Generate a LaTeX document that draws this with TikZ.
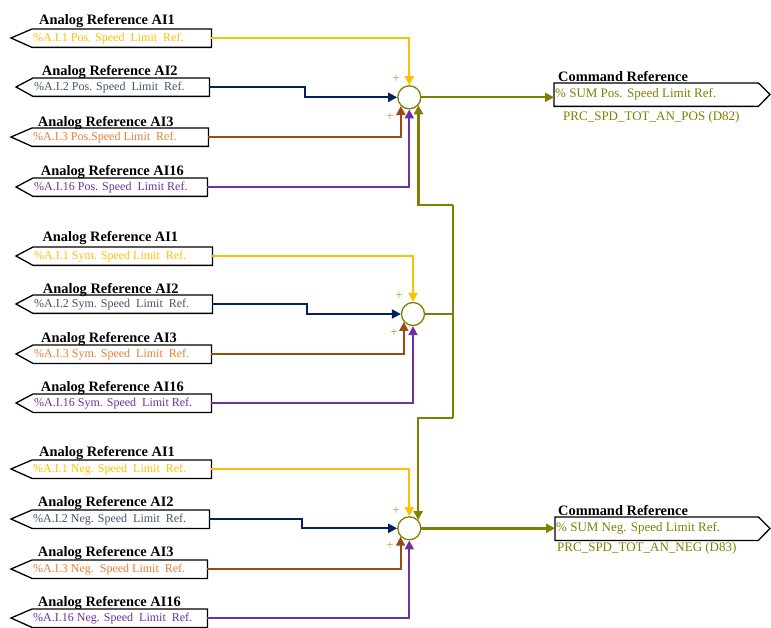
\documentclass[tikz,border=0pt]{standalone}
\usepackage{fontspec}
\setmainfont{Liberation Serif}
\usetikzlibrary{arrows.meta,calc}
\definecolor{cyel}{HTML}{FFC000}
\definecolor{cnavy}{HTML}{002060}
\definecolor{cbluet}{HTML}{44546A}
\definecolor{cbrown}{HTML}{9A4A12}
\definecolor{corange}{HTML}{ED7D31}
\definecolor{cpurple}{HTML}{7030A0}
\definecolor{colive}{HTML}{808000}
\definecolor{cplus}{HTML}{A0A040}
\tikzset{
 boxtext/.style={inner xsep=1pt, inner ysep=0pt, anchor=north west, minimum height=18pt, font=\fontsize{12}{14}\selectfont},
 cmdtext/.style={inner xsep=1pt, inner ysep=0pt, anchor=north west, minimum height=23pt, text=colive, font=\fontsize{13}{15}\selectfont},
 boxline/.style={draw=black, line width=1.3pt, line join=miter},
 titletext/.style={anchor=west, inner sep=0pt, font=\bfseries\fontsize{14.4}{16}\selectfont},
 wire/.style={line width=2pt, -{Triangle[length=9pt,width=9pt]}},
 bus/.style={line width=2.4pt, draw=colive},
 sumnode/.style={circle, draw=colive, fill=white, line width=1.3pt, minimum size=23pt, inner sep=0pt},
 plusmark/.style={text=cplus, inner sep=0pt, font=\fontsize{13}{14}\selectfont},
 lbl/.style={anchor=west, inner sep=0pt, text=colive, font=\fontsize{13}{15}\selectfont},
}
% #1 name, #2 left x, #3 top y, #4 width, #5 tip x, #6 colour, #7 text
\newcommand{\inbox}[7]{%
 \node[boxtext, text=#6] (#1) at (#2,#3) {\makebox[\dimexpr #4pt-2pt\relax][l]{#7}};
 \draw[boxline] (#1.north west) -- (#1.north east) -- (#1.south east) -- (#1.south west) -- (#5,{#3+9}) -- cycle;
}
% #1 name, #2 left x, #3 top y, #4 width, #5 tip x, #6 text
\newcommand{\cmdbox}[6]{%
 \node[cmdtext] (#1) at (#2,#3) {\makebox[\dimexpr #4pt-2pt\relax][l]{#6}};
 \draw[boxline] (#1.north west) -- (#1.north east) -- (#5,{#3+11.5}) -- (#1.south east) -- (#1.south west) -- cycle;
}
\begin{document}
\begin{tikzpicture}[x=1pt,y=-1pt]
\fill[white] (0,0) rectangle (771,628);
\useasboundingbox (0,0) rectangle (771,628);

% ---------- input boxes: top group ----------
\inbox{t1}{32}{29}{179}{11}{cyel}{\%A.I.1 Pos. Speed\ \ Limit\ \ Ref.}
\inbox{t2}{33}{78}{176}{16}{cbluet}{\%A.I.2 Pos. Speed\ \ Limit\ \ Ref.}
\inbox{t3}{32}{128}{176}{11}{corange}{\%A.I.3 Pos.Speed Limit\ \ Ref.}
\inbox{t4}{33}{178}{174}{16}{cpurple}{\%A.I.16 Pos. Speed\ \ Limit Ref.}
\node[titletext] (h1) at (39,21) {Analog Reference AI1};
\node[titletext] (h2) at (41.7,72) {Analog Reference AI2};
\node[titletext] (h3) at (37.7,123) {Analog Reference AI3};
\node[titletext] (h4) at (40.7,172) {Analog Reference AI16};

% ---------- input boxes: middle group ----------
\inbox{t5}{33}{247}{179}{16}{cyel}{\%A.I.1 Sym. Speed Limit\ \ Ref.}
\inbox{t6}{33}{295}{179}{16}{cbluet}{\%A.I.2 Sym. Speed\ \ Limit\ \ Ref.}
\inbox{t7}{33}{345}{178}{16}{corange}{\%A.I.3 Sym. Speed\ \ Limit\ \ Ref.}
\inbox{t8}{33}{394}{178}{16}{cpurple}{\%A.I.16 Sym. Speed\ \ Limit Ref.}
\node[titletext] (h5) at (42.3,238) {Analog Reference AI1};
\node[titletext] (h6) at (42.7,290) {Analog Reference AI2};
\node[titletext] (h7) at (41,339) {Analog Reference AI3};
\node[titletext] (h8) at (40.7,388) {Analog Reference AI16};

% ---------- input boxes: bottom group ----------
\inbox{t9}{32}{460}{179}{11}{cyel}{\%A.I.1 Neg. Speed\ \ Limit\ \ Ref.}
\inbox{t10}{32}{510}{177}{11}{cbluet}{\%A.I.2 Neg. Speed\ \ Limit\ \ Ref.}
\inbox{t11}{32}{560}{175}{11}{corange}{\%A.I.3 Neg.\ \ Speed Limit\ \ Ref.}
\inbox{t12}{32}{609}{175}{11}{cpurple}{\%A.I.16 Neg. Speed\ \ Limit\ \ Ref.}
\node[titletext] (h9) at (39,453) {Analog Reference AI1};
\node[titletext] (h10) at (37.7,503) {Analog Reference AI2};
\node[titletext] (h11) at (37.7,553) {Analog Reference AI3};
\node[titletext] (h12) at (37.7,603) {Analog Reference AI16};

% ---------- command boxes ----------
\cmdbox{cmd1}{554}{83}{204}{770}{\% SUM Pos. Speed Limit Ref.}
\cmdbox{cmd2}{555}{517}{203}{770}{\% SUM Neg. Speed Limit Ref.}
\node[titletext] (ch1) at (558,77) {Command Reference};
\node[titletext] (ch2) at (558,510) {Command Reference};
\node[lbl] (pn1) at (563,117) {PRC\_SPD\_TOT\_AN\_POS (D82)};
\node[lbl] (pn2) at (557,548) {PRC\_SPD\_TOT\_AN\_NEG (D83)};

% ---------- summing junctions ----------
\node[sumnode] (c1) at (409.3,97.3) {};
\node[sumnode] (c2) at (413,314) {};
\node[sumnode] (c3) at (409.3,528.3) {};
\node[plusmark] (p1) at (396,79) {+};
\node[plusmark] (p2) at (390,117) {+};
\node[plusmark] (p3) at (399,296) {+};
\node[plusmark] (p4) at (394,333) {+};
\node[plusmark] (p5) at (396,511) {+};
\node[plusmark] (p6) at (390,546) {+};

% ---------- wires: top ----------
\draw[wire, cyel] (t1.east) -| (c1.north);
\draw[wire, cnavy] (t2.east) -- ++(96,0) |- (c1.west);
\draw[wire, cbrown] (t3.east) -| (c1.-134);
\draw[wire, cpurple] (t4.east) -| (c1.south);

% ---------- wires: middle ----------
\draw[wire, cyel] (t5.east) -| (c2.north);
\draw[wire, cnavy] (t6.east) -- ++(95,0) |- (c2.west);
\draw[wire, cbrown] (t7.east) -| (c2.-139);
\draw[wire, cpurple] (t8.east) -| (c2.south);

% ---------- wires: bottom ----------
\draw[wire, cyel] (t9.east) -| (c3.north);
\draw[wire, cnavy] (t10.east) -- ++(93,0) |- (c3.west);
\draw[wire, cbrown] (t11.east) -| (c3.-136);
\draw[wire, cpurple] (t12.east) -| (c3.south);

% ---------- olive bus ----------
\coordinate (j1) at (453,205);
\coordinate (j2) at (453,418);
\draw[bus] (c2.east) -- (c2.east -| j1);
\draw[bus] (j1) -- (j2);
\draw[bus, -{Triangle[length=9pt,width=9pt]}] (j1) -| (c1.-41);
\draw[bus, -{Triangle[length=9pt,width=9pt]}] (j2) -| (c3.43);

% ---------- outputs ----------
\draw[bus, -{Triangle[length=9pt,width=9pt]}] (c1.east) -- (c1.east -| cmd1.west);
\draw[bus, -{Triangle[length=9pt,width=9pt]}] (c3.east) -- (c3.east -| cmd2.west);
\end{tikzpicture}
\end{document}
